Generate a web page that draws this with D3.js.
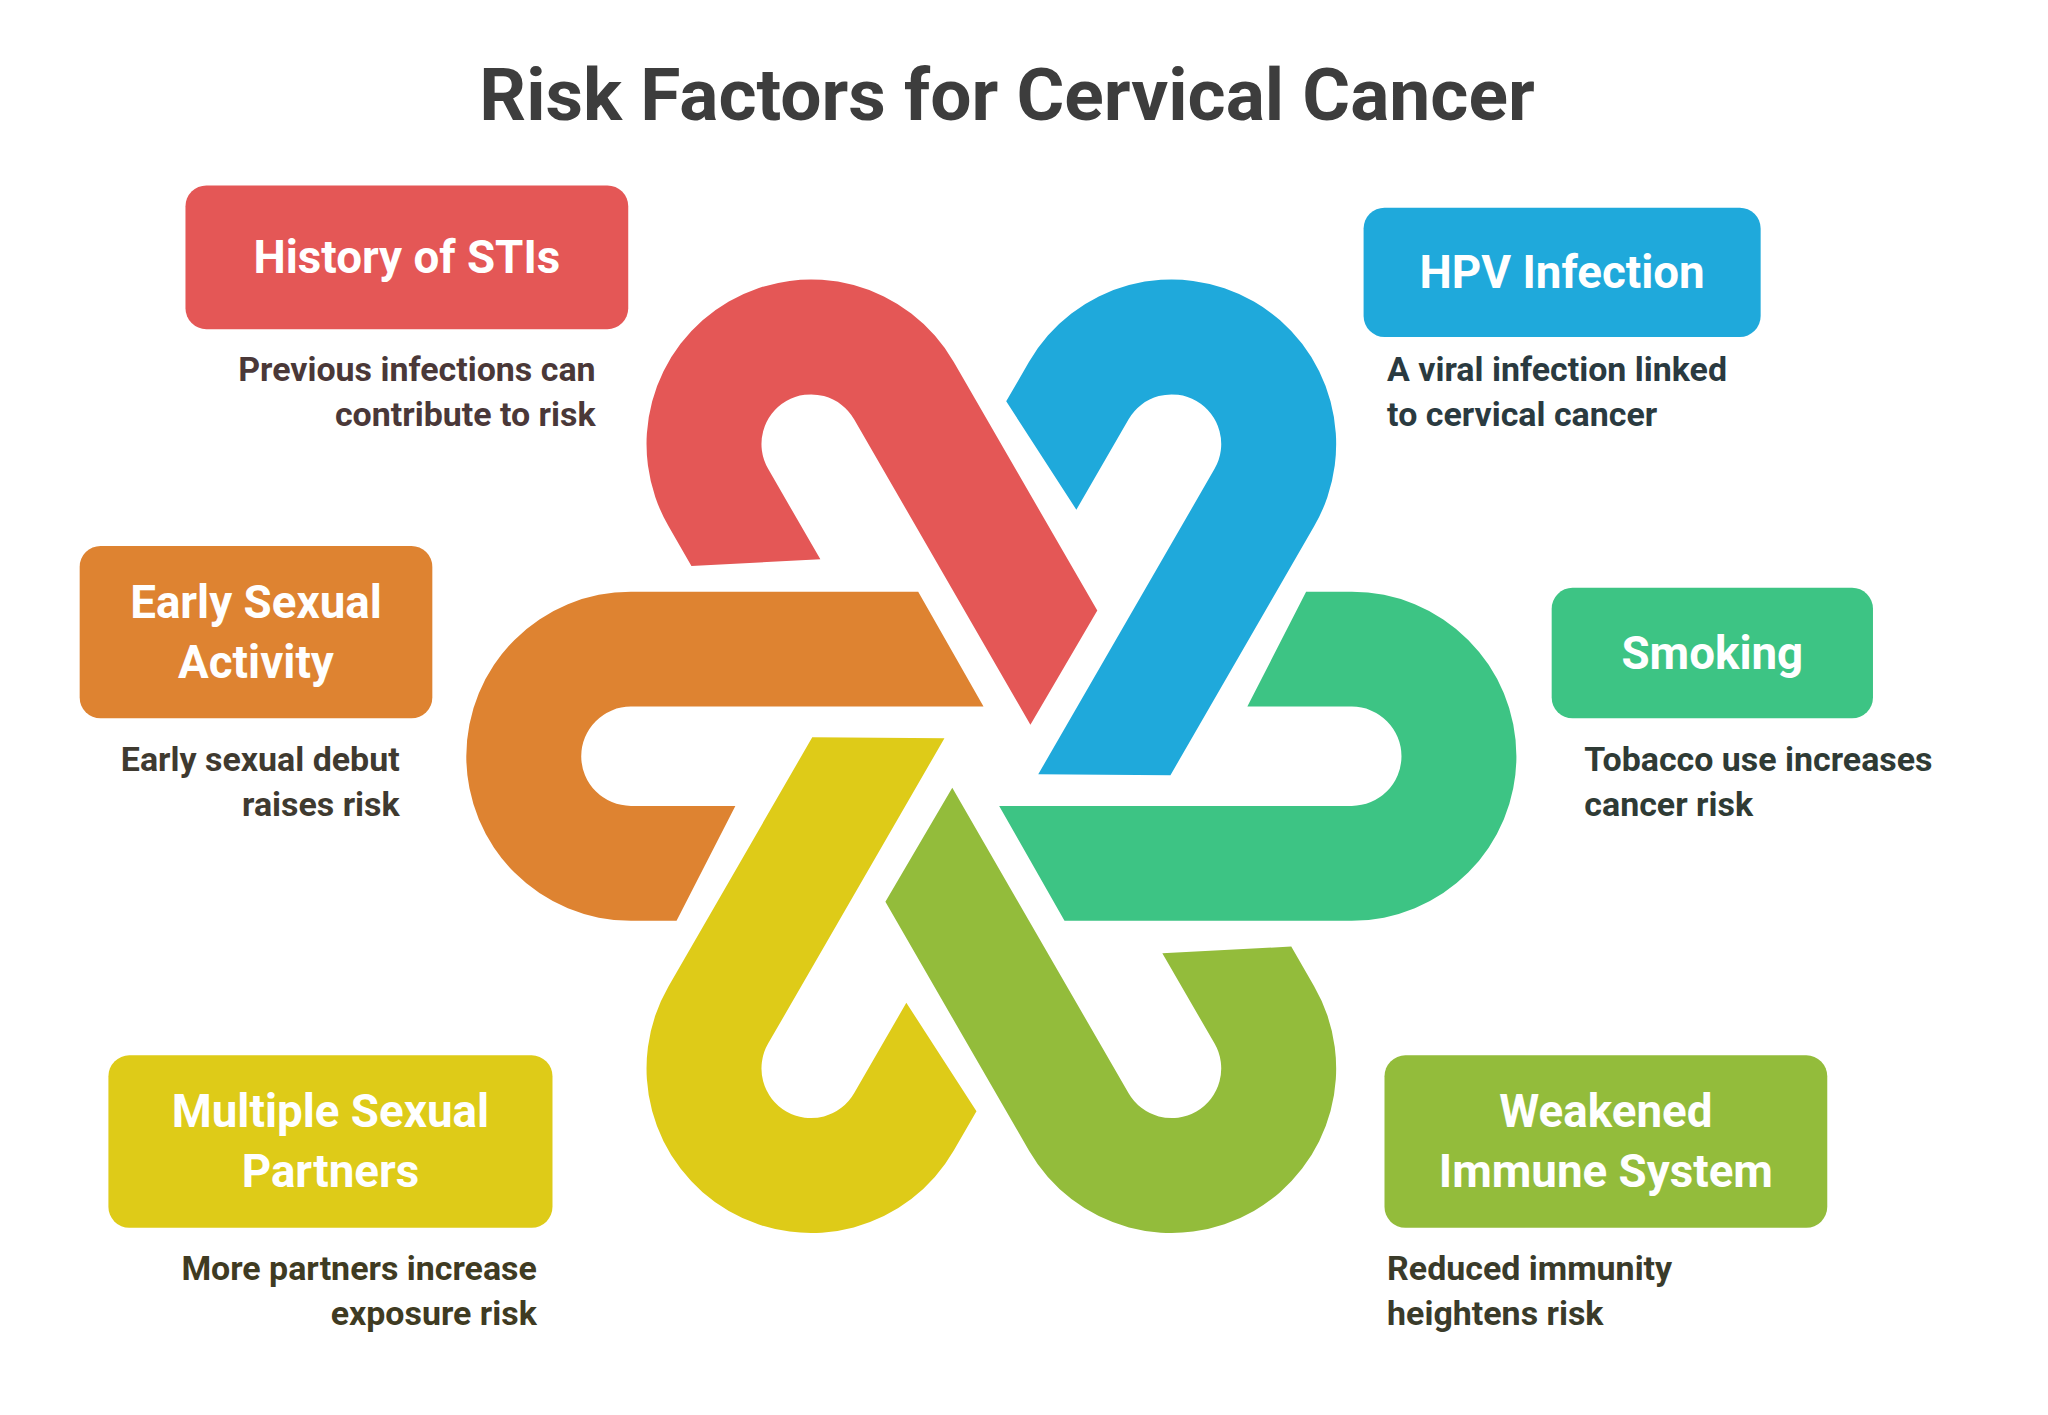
<!DOCTYPE html>
<html><head><meta charset="utf-8">
<script src="https://cdn.jsdelivr.net/npm/d3@7"></script>
<style>body{margin:0;background:#fff}svg{display:block}</style>
</head><body>
<script>
const title = "Risk Factors for Cervical Cancer";
const factors = ["Smoking", "Weakened|Immune System", "Multiple Sexual|Partners", "Early Sexual|Activity", "History of STIs", "HPV Infection"];
const descriptions = [
  ["Tobacco use increases", "cancer risk"],
  ["Reduced immunity", "heightens risk"],
  ["More partners increase", "exposure risk"],
  ["Early sexual debut", "raises risk"],
  ["Previous infections can", "contribute to risk"],
  ["A viral infection linked", "to cervical cancer"]
];
const colors = ["#3DC484", "#93BC3B", "#DECB18", "#DE8331", "#E45756", "#1FA9DB"];
const descColors = ["#2f3b35", "#3a3b2a", "#3f3b22", "#3f3a30", "#4a3838", "#2a3a40"];

const W = 2048, H = 1415, k = 2048 / 1568;
const svg = d3.select("body").append("svg").attr("width", W).attr("height", H);

svg.append("text").attr("x", 771 * k).attr("y", 92 * k).attr("text-anchor", "middle")
  .attr("font-family", "Roboto").attr("font-weight", 700).attr("font-size", 56 * k)
  .attr("fill", "#3d3d3d").text(title);

// hooks
const cx = 759 * k, cy = 579 * k;
const angle = d3.scaleLinear().domain([0, 6]).range([0, 360]);
const path = d3.path();
path.moveTo(-35, -126); path.lineTo(0, -126);
path.arc(0, 0, 126, -Math.PI / 2, Math.PI / 2, false);
path.lineTo(-220, 126); path.lineTo(-270, 38); path.lineTo(0, 38);
path.arc(0, 0, 38, Math.PI / 2, -Math.PI / 2, true);
path.lineTo(-80, -38); path.closePath();
svg.append("g").selectAll("path").data(colors).join("path")
  .attr("d", path.toString())
  .attr("fill", d => d)
  .attr("transform", (d, i) => `translate(${cx},${cy}) scale(${k}) rotate(${angle(i)}) translate(276,0)`);

// boxes: layout in reference display units
const layout = [
  {x:1188, y:450, w:246, h:100, dx:1213, dy:581, anchor:"start"},
  {x:1060, y:808, w:339, h:132, dx:1062, dy:971, anchor:"start"},
  {x:83, y:808, w:340, h:132, dx:411, dy:971, anchor:"end"},
  {x:61, y:418, w:270, h:132, dx:306, dy:581, anchor:"end"},
  {x:142, y:142, w:339, h:110, dx:456, dy:283, anchor:"end"},
  {x:1044, y:159, w:304, h:99, dx:1062, dy:283, anchor:"start"}
];
const g = svg.append("g").selectAll("g").data(factors).join("g");
g.append("rect")
  .attr("x", (d, i) => layout[i].x * k).attr("y", (d, i) => layout[i].y * k)
  .attr("width", (d, i) => layout[i].w * k).attr("height", (d, i) => layout[i].h * k)
  .attr("rx", 16 * k).attr("fill", (d, i) => colors[i]);
g.each(function (d, i) {
  const L = layout[i], lines = d.split("|");
  const t = d3.select(this).append("text").attr("text-anchor", "middle")
    .attr("font-family", "Roboto").attr("font-weight", 700).attr("font-size", 35 * k).attr("fill", "#fff");
  const mid = L.y + L.h / 2, lh = 46;
  lines.forEach((s, j) => t.append("tspan").attr("x", (L.x + L.w / 2) * k)
    .attr("y", (mid + (j - (lines.length - 1) / 2) * lh + 12) * k).text(s));
  const dt = d3.select(this).append("text").attr("text-anchor", L.anchor)
    .attr("font-family", "Roboto").attr("font-weight", 700).attr("font-size", 26 * k).attr("fill", descColors[i]);
  descriptions[i].forEach((s, j) => dt.append("tspan").attr("x", L.dx * k)
    .attr("y", (L.dy + 9 + j * 34.5) * k).text(s));
});
</script>
</body></html>
